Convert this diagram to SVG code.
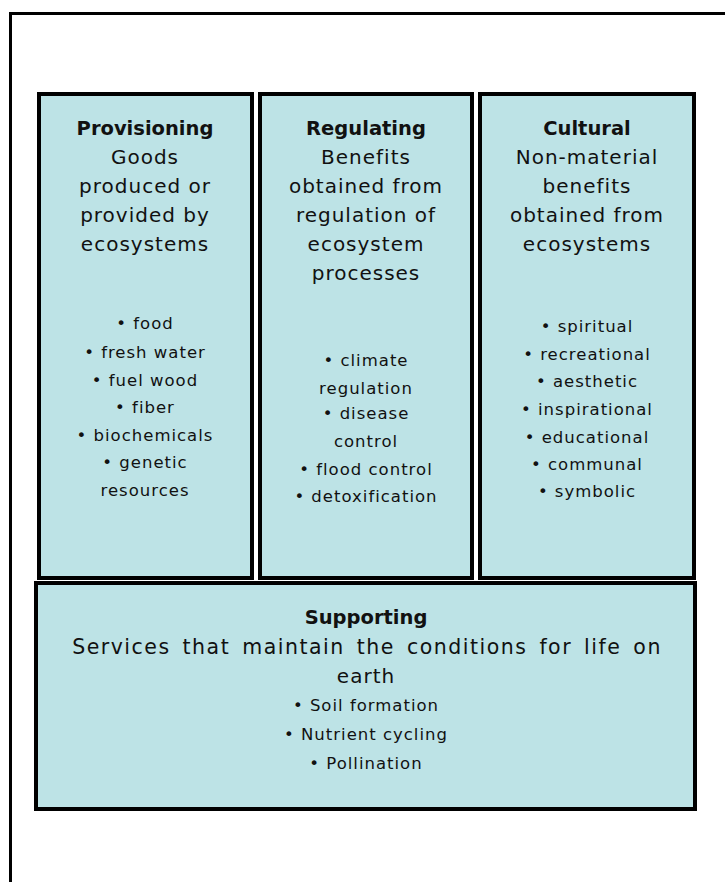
<svg xmlns="http://www.w3.org/2000/svg" width="725" height="882" viewBox="0 0 725 882">
<style>
.box{fill:#bde3e6;stroke:#000;stroke-width:4}
.t{font-family:"DejaVu Sans","Open Sans",sans-serif;fill:#111;text-anchor:middle}
.h{font-size:19.5px;font-weight:bold}
.d{font-size:20px;letter-spacing:1px}
.b{font-size:16.5px;letter-spacing:1px}
.w{font-size:20.5px;letter-spacing:1.5px;word-spacing:4px}
</style>
<rect x="0" y="0" width="725" height="882" fill="#fff"/>
<rect x="10.5" y="13.5" width="760" height="900" fill="none" stroke="#000" stroke-width="3"/>
<g id="provisioning">
<rect class="box" x="39" y="94" width="213" height="484"/>
<text class="t h" x="145" y="135">Provisioning</text>
<text class="t d" x="145" y="164">Goods</text>
<text class="t d" x="145" y="193">produced or</text>
<text class="t d" x="145" y="222">provided by</text>
<text class="t d" x="145" y="251">ecosystems</text>
<text class="t b" x="145" y="329">• food</text>
<text class="t b" x="145" y="358">• fresh water</text>
<text class="t b" x="145" y="386">• fuel wood</text>
<text class="t b" x="145" y="413">• fiber</text>
<text class="t b" x="145" y="441">• biochemicals</text>
<text class="t b" x="145" y="468">• genetic</text>
<text class="t b" x="145" y="496">resources</text>
</g>
<g id="regulating">
<rect class="box" x="260" y="94" width="212" height="484"/>
<text class="t h" x="366" y="135">Regulating</text>
<text class="t d" x="366" y="164">Benefits</text>
<text class="t d" x="366" y="193">obtained from</text>
<text class="t d" x="366" y="222">regulation of</text>
<text class="t d" x="366" y="251">ecosystem</text>
<text class="t d" x="366" y="280">processes</text>
<text class="t b" x="366" y="366">• climate</text>
<text class="t b" x="366" y="394">regulation</text>
<text class="t b" x="366" y="419">• disease</text>
<text class="t b" x="366" y="447">control</text>
<text class="t b" x="366" y="475">• flood control</text>
<text class="t b" x="366" y="502">• detoxification</text>
</g>
<g id="cultural">
<rect class="box" x="480" y="94" width="214" height="484"/>
<text class="t h" x="587" y="135">Cultural</text>
<text class="t d" x="587" y="164">Non-material</text>
<text class="t d" x="587" y="193">benefits</text>
<text class="t d" x="587" y="222">obtained from</text>
<text class="t d" x="587" y="251">ecosystems</text>
<text class="t b" x="587" y="332">• spiritual</text>
<text class="t b" x="587" y="360">• recreational</text>
<text class="t b" x="587" y="387">• aesthetic</text>
<text class="t b" x="587" y="415">• inspirational</text>
<text class="t b" x="587" y="443">• educational</text>
<text class="t b" x="587" y="470">• communal</text>
<text class="t b" x="587" y="497">• symbolic</text>
</g>
<g id="supporting">
<rect class="box" x="36" y="583" width="659" height="226"/>
<text class="t h" x="366" y="624">Supporting</text>
<text class="t w" x="367" y="654">Services that maintain the conditions for life on</text>
<text class="t d" x="366" y="683">earth</text>
<text class="t b" x="366" y="711">• Soil formation</text>
<text class="t b" x="366" y="740">• Nutrient cycling</text>
<text class="t b" x="366" y="769">• Pollination</text>
</g>
<g id="connectors"></g>
</svg>
